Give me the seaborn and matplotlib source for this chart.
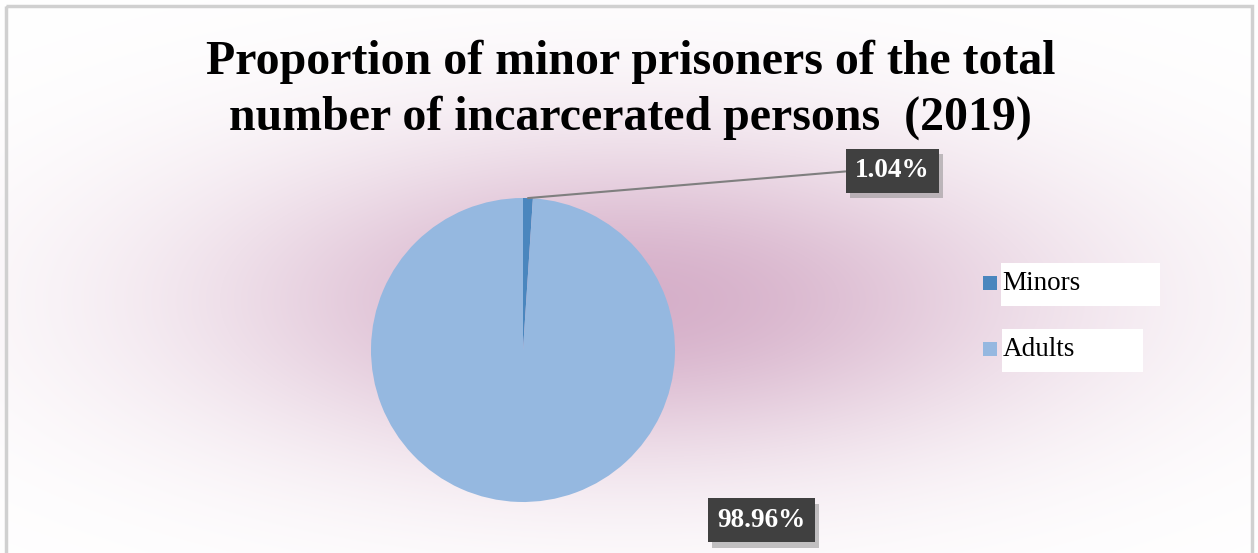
import numpy as np
import matplotlib
matplotlib.use("Agg")
import matplotlib.pyplot as plt
from matplotlib.patches import Rectangle
import matplotlib.patheffects as pe
import seaborn as sns

sns.set_theme(style="white")
plt.rcParams["font.family"] = ["Liberation Serif", "DejaVu Serif"]

title = "Proportion of minor prisoners of the total\nnumber of incarcerated persons  (2019)"
categories = ["Minors", "Adults"]
shares = [1.04, 98.96]
colors = ["#4A86BE", "#95B8E0"]

W, H = 1258, 553
fig = plt.figure(figsize=(W / 100, H / 100), dpi=100)
fig.patch.set_facecolor("white")

# soft pink glow behind the chart
bg = fig.add_axes([0, 0, 1, 1], zorder=0)
xx, yy = np.meshgrid(np.arange(W), np.arange(H))
d2 = ((xx - 630) / 300.0) ** 2 + ((yy - 300) / 115.0) ** 2
t = np.exp(-0.5 * d2)
center = np.array([0.84, 0.69, 0.79])
img = np.ones((H, W, 3)) * (1 - t[..., None]) + center * t[..., None]
bg.imshow(img, extent=[0, W, H, 0], aspect="auto")
bg.set_xlim(0, W)
bg.set_ylim(H, 0)
bg.axis("off")
# outer chart border
bg.add_patch(Rectangle((6, 6), W - 12, H + 10, fill=False, ec="#D0D0D0", lw=2.5))

fig.text(0.5012, 1 - 90 / H, title, ha="center", va="center", fontsize=34.5,
         fontweight="bold", color="black", linespacing=1.32, zorder=5)

# pie axes: center (523, 350) px, radius 152 px
cx, cy, rad = 523, 350, 152
ax = fig.add_axes([(cx - rad) / W, (H - cy - rad) / H, 2 * rad / W, 2 * rad / H], zorder=2)
wedges, _ = ax.pie(shares, colors=colors, startangle=90, counterclock=False,
                   radius=1, wedgeprops=dict(linewidth=0))
ax.set_xlim(-1, 1)
ax.set_ylim(-1, 1)
ax.axis("off")

box = dict(boxstyle="square,pad=0.35", fc="#404040", ec="none",
           path_effects=[pe.withSimplePatchShadow(offset=(3, -4), shadow_rgbFace="#888888", alpha=0.5)])

# minors label with leader line
mid = np.deg2rad(90 - shares[0] / 100 * 360 / 2)
ax.annotate(f"{shares[0]:.2f}%", xy=(np.cos(mid), np.sin(mid)),
            xytext=(2.43, 1.18), textcoords="data", ha="center", va="center",
            fontsize=19.5, fontweight="bold", color="white", bbox=box,
            arrowprops=dict(arrowstyle="-", color="#7F7F7F", lw=1.5,
                            shrinkA=0, shrinkB=0, relpos=(0, 0.5)),
            annotation_clip=False)
ax.text(1.57, -1.12, f"{shares[1]:.2f}%", ha="center", va="center",
        fontsize=19.5, fontweight="bold", color="white", bbox=box, clip_on=False)

# legend with white backing boxes
leg = [(284, 1001, 159), (350, 1002, 141)]
for (y, x0, w), lab, col in zip(leg, categories, colors):
    bg.add_patch(Rectangle((x0, y - 21), w, 43, fc="white", ec="none", zorder=3))
    bg.add_patch(Rectangle((983, y - 8), 14, 14, fc=col, ec="none", zorder=3))
    bg.text(x0 + 1, y, lab, ha="left", va="center", fontsize=19.5, color="black", zorder=4)

fig.savefig("out.png", dpi=100)
